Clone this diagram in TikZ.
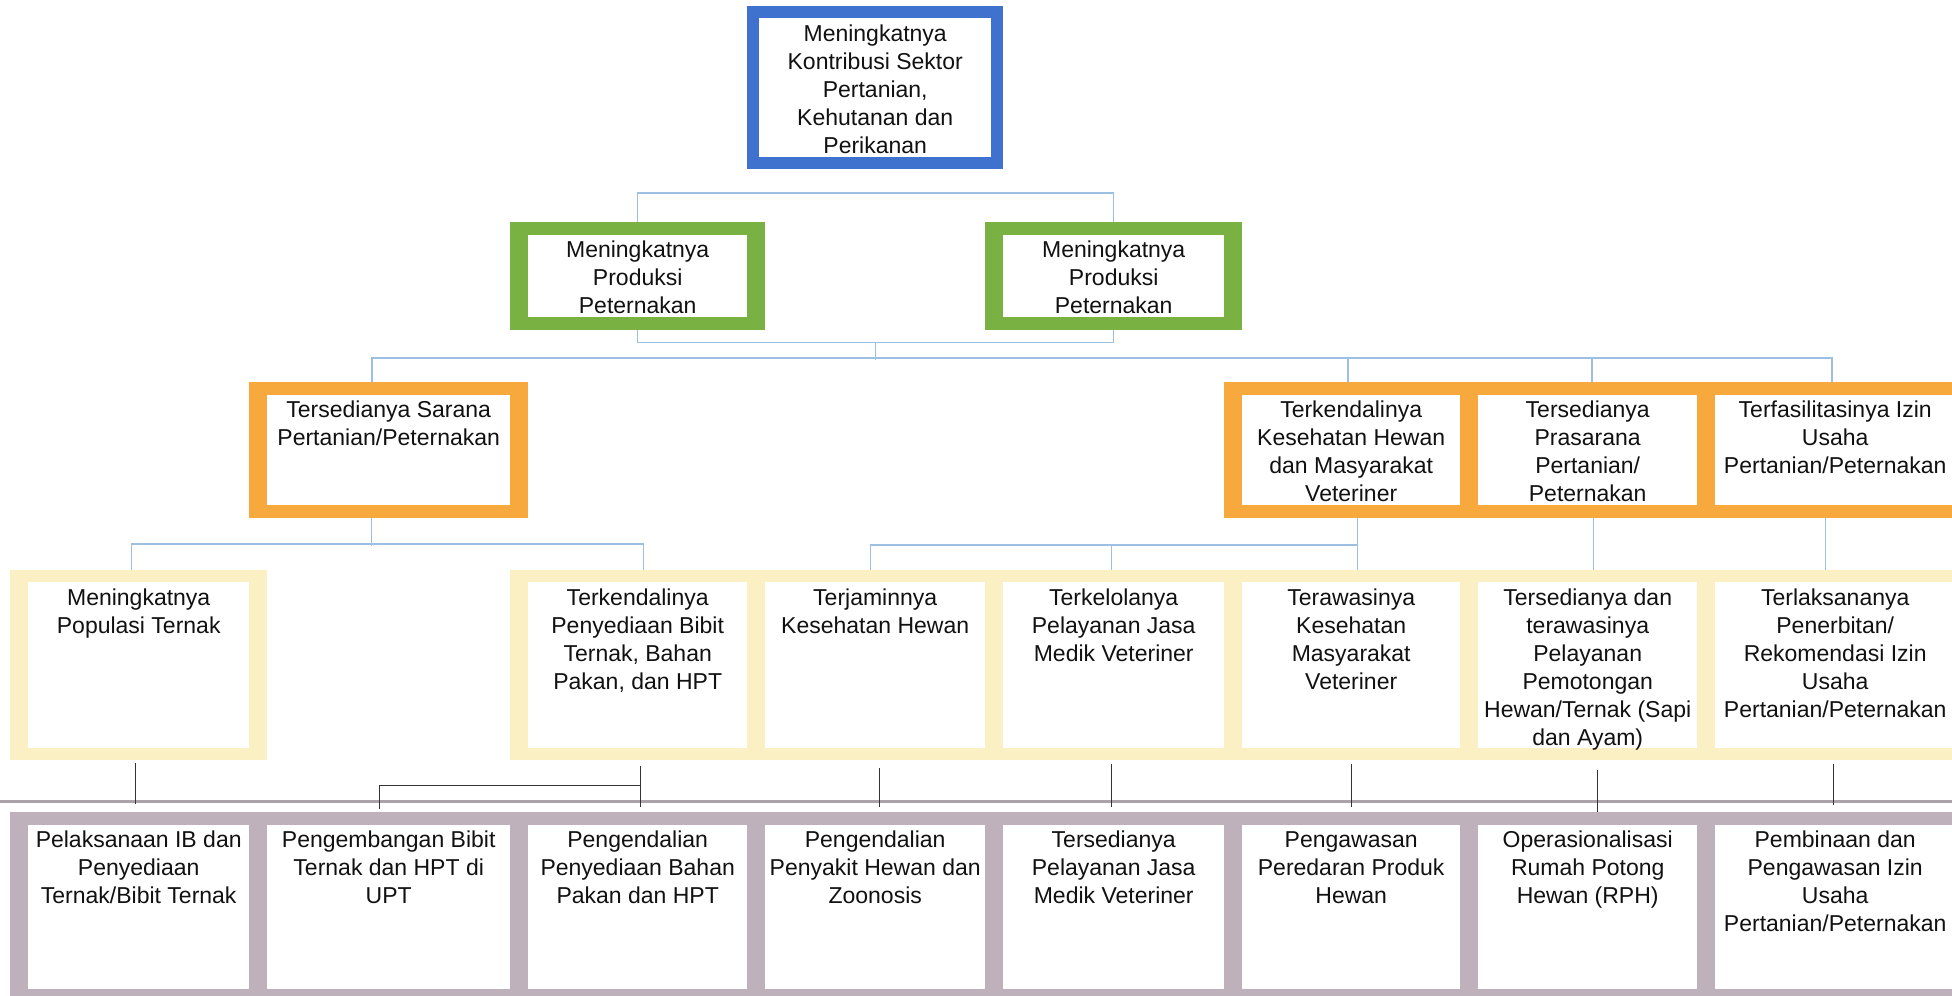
\documentclass[tikz,border=0pt]{standalone}
\usepackage{fontspec}
\setmainfont{Liberation Sans}
\usetikzlibrary{calc}
\definecolor{blueC}{HTML}{3F72CF}
\definecolor{greenC}{HTML}{79B143}
\definecolor{orangeC}{HTML}{F8A93E}
\definecolor{yellowC}{HTML}{FBEFC4}
\definecolor{greyC}{HTML}{BEB1BC}
\definecolor{lineB}{HTML}{9CC0E2}
\definecolor{sepC}{HTML}{ACA2AA}
\definecolor{txtC}{HTML}{111111}
\definecolor{darkC}{HTML}{333333}
\newcommand{\tb}[3]{\parbox[c][\dimexpr #2pt-30pt\relax][t]{#1pt}{\centering\strut #3}}
\begin{document}
\begin{tikzpicture}[x=1pt,y=-1pt,
  font=\fontsize{23}{28}\selectfont,
  boxframe/.style n args={3}{rectangle, anchor=north west, inner xsep=0pt, inner ysep=16pt,
    text=txtC, fill=#1,
    path picture={\fill[white] ([xshift=#2,yshift=#3]path picture bounding box.south west)
       rectangle ([xshift=-#2,yshift=-#3]path picture bounding box.north east);}},
  bluebox/.style={boxframe={blueC}{12pt}{12pt}},
  greenbox/.style={boxframe={greenC}{18pt}{13pt}},
  orangebox/.style={boxframe={orangeC}{18pt}{13pt}},
  yellowbox/.style={boxframe={yellowC}{18pt}{12pt}},
  greybox/.style={boxframe={greyC}{18pt}{13pt}},
  lb/.style={draw=lineB, line width=1.2pt},
  lbus/.style={draw=lineB, line width=2pt},
  dk/.style={draw=darkC, line width=1.4pt},
  sepline/.style={draw=sepC, line width=3pt},
]
\path[fill=white, use as bounding box] (0,0) rectangle (1952,996);

% level 1
\node[bluebox] (top) at (747,6) {\tb{256}{161}{Meningkatnya\\Kontribusi Sektor\\Pertanian,\\Kehutanan dan\\Perikanan}};

% level 2
\node[greenbox] (gL) at (510,222) {\tb{255}{106}{Meningkatnya\\Produksi\\Peternakan}};
\node[greenbox] (gR) at (985,222) {\tb{257}{106}{Meningkatnya\\Produksi\\Peternakan}};

% level 3
\node[orangebox] (oL) at (249,382) {\tb{279}{134}{Tersedianya Sarana\\Pertanian/Peternakan}};
\node[orangebox] (oA) at (1224,382) {\tb{254}{134}{Terkendalinya\\Kesehatan Hewan\\dan Masyarakat\\Veteriner}};
\node[orangebox] (oB) at (1460,382) {\tb{255}{134}{Tersedianya\\Prasarana\\Pertanian/\\Peternakan}};
\node[orangebox] (oC) at (1697,382) {\tb{276}{134}{Terfasilitasinya Izin\\Usaha\\Pertanian/Peternakan}};

% level 4
\node[yellowbox] (y1) at (10,570) {\tb{257}{188}{Meningkatnya\\Populasi Ternak}};
\node[yellowbox] (y3) at (510,570) {\tb{255}{188}{Terkendalinya\\Penyediaan Bibit\\Ternak, Bahan\\Pakan, dan HPT}};
\node[yellowbox] (y4) at (747,570) {\tb{256}{188}{Terjaminnya\\Kesehatan Hewan}};
\node[yellowbox] (y5) at (985,570) {\tb{257}{188}{Terkelolanya\\Pelayanan Jasa\\Medik Veteriner}};
\node[yellowbox] (y6) at (1224,570) {\tb{254}{188}{Terawasinya\\Kesehatan\\Masyarakat\\Veteriner}};
\node[yellowbox] (y7) at (1460,570) {\tb{255}{188}{Tersedianya dan\\terawasinya\\Pelayanan\\Pemotongan\\Hewan/Ternak (Sapi\\dan Ayam)}};
\node[yellowbox] (y8) at (1697,570) {\tb{276}{188}{Terlaksananya\\Penerbitan/\\Rekomendasi Izin\\Usaha\\Pertanian/Peternakan}};

% level 5
\node[greybox] (g1) at (10,812) {\tb{257}{188}{Pelaksanaan IB dan\\Penyediaan\\Ternak/Bibit Ternak}};
\node[greybox] (g2) at (249,812) {\tb{279}{188}{Pengembangan Bibit\\Ternak dan HPT di\\UPT}};
\node[greybox] (g3) at (510,812) {\tb{255}{188}{Pengendalian\\Penyediaan Bahan\\Pakan dan HPT}};
\node[greybox] (g4) at (747,812) {\tb{256}{188}{Pengendalian\\Penyakit Hewan dan\\Zoonosis}};
\node[greybox] (g5) at (985,812) {\tb{257}{188}{Tersedianya\\Pelayanan Jasa\\Medik Veteriner}};
\node[greybox] (g6) at (1224,812) {\tb{254}{188}{Pengawasan\\Peredaran Produk\\Hewan}};
\node[greybox] (g7) at (1460,812) {\tb{255}{188}{Operasionalisasi\\Rumah Potong\\Hewan (RPH)}};
\node[greybox] (g8) at (1697,812) {\tb{276}{188}{Pembinaan dan\\Pengawasan Izin\\Usaha\\Pertanian/Peternakan}};

% connectors level 1-3
\draw[lb] (gL.north) -- ([yshift=29pt]gL.north) -| (gR.north);
\draw[lb] (gL.south) -- ([yshift=-12pt]gL.south) -| (gR.south);
\coordinate (bm) at ($(gL.south)!0.5!(gR.south)+(0,12)$);
\draw[lb] (bm) -- ++(0,18);
\draw[lbus] ([xshift=-17pt]oL.north) -- ++(0,-24) -| ([xshift=-3pt]oC.north);
\draw[lbus] ([xshift=-3pt]oA.north) -- ++(0,-24);
\draw[lbus] ([xshift=4pt]oB.north) -- ++(0,-24);

% connectors level 3-4
\draw[lb] ([xshift=-17pt]oL.south) -- ++(0,28);
\draw[lb] ([xshift=-7pt]y1.north) -- ++(0,-26) -| ([xshift=6pt]y3.north);
\draw[lb] ([xshift=6pt]oA.south) -- ([xshift=6pt]y6.north);
\draw[lb] ([xshift=-5pt]y4.north) |- ([xshift=6pt,yshift=25pt]y6.north);
\draw[lb] ([xshift=-2pt]y5.north) -- ++(0,-25);
\draw[lb] ([xshift=6pt]oB.south) -- ([xshift=6pt]y7.north);
\draw[lb] ([xshift=-10pt]oC.south) -- ([xshift=-10pt]y8.north);

% separator
\coordinate (sepL) at (0,801);
\coordinate (sepR) at (1952,801);
\draw[sepline] (sepL) -- (sepR);

% connectors level 4-5
\draw[dk] ([xshift=-3pt,yshift=-3pt]y1.south) -- ([xshift=-3pt,yshift=8pt]g1.north);
\draw[dk] ([xshift=3pt,yshift=-6pt]y3.south) -- ([xshift=3pt,yshift=5pt]g3.north);
\draw[dk] ([xshift=3pt,yshift=-25pt]y3.south) -| ([xshift=-9pt,yshift=3pt]g2.north);
\draw[dk] ([xshift=4pt,yshift=-8pt]y4.south) -- ([xshift=4pt,yshift=5pt]g4.north);
\draw[dk] ([xshift=-2pt,yshift=-4pt]y5.south) -- ([xshift=-2pt,yshift=5pt]g5.north);
\draw[dk] ([yshift=-4pt]y6.south) -- ([yshift=5pt]g6.north);
\draw[dk] ([xshift=10pt,yshift=-10pt]y7.south) -- ([xshift=10pt]g7.north);
\draw[dk] ([xshift=-2pt,yshift=-4pt]y8.south) -- ([xshift=-2pt,yshift=7pt]g8.north);
\end{tikzpicture}
\end{document}
